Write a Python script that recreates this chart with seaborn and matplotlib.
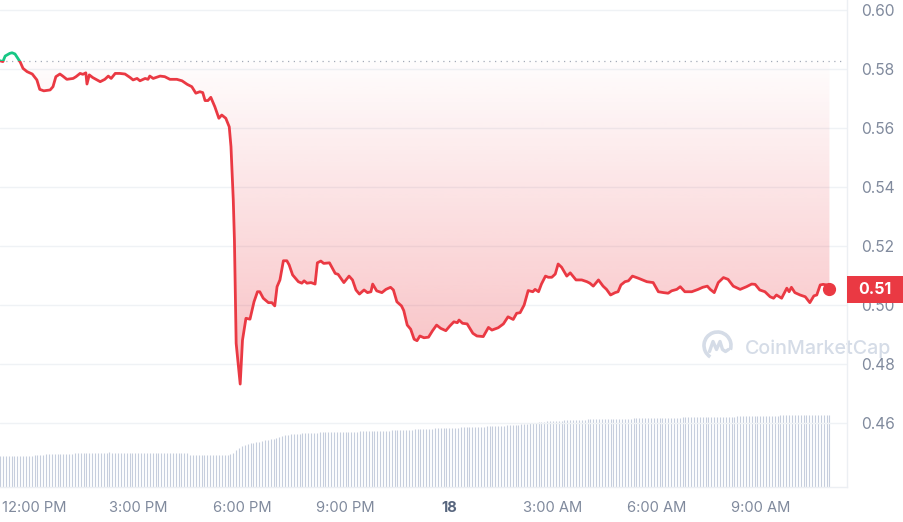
import numpy as np
import matplotlib
matplotlib.use("Agg")
import matplotlib.pyplot as plt
import seaborn as sns
from matplotlib.patches import Rectangle, Arc
from matplotlib.lines import Line2D
import matplotlib.transforms as mtransforms

# ---------------- data ----------------
# minutes since 11:00 AM (day 17)
minutes = [0, 5, 9, 17, 21, 26, 31, 35, 40, 47, 56, 64, 69, 76, 87, 92, 97, 104, 109, 116,
           127, 132, 139, 144, 149, 151, 155, 161, 174, 182, 188, 193, 200, 208, 217, 226, 231, 238, 243, 252,
           257, 260, 266, 278, 286, 295, 307, 316, 325, 333, 340, 347, 352, 356, 361, 366, 373, 380, 385, 392,
           398, 401, 405, 407, 410, 417, 421, 427, 434, 441, 447, 451, 457, 466, 472, 477, 481, 486, 492, 498,
           502, 508, 518, 524, 528, 533, 540, 547, 551, 557, 562, 572, 582, 587, 597, 606, 612, 618, 624, 632,
           638, 644, 647, 654, 663, 670, 678, 683, 689, 697, 701, 707, 713, 719, 724, 729, 736, 744, 751, 758,
           765, 774, 781, 788, 794, 797, 803, 811, 821, 828, 839, 848, 854, 865, 874, 882, 891, 897, 903, 910,
           917, 925, 929, 935, 940, 947, 952, 958, 964, 969, 975, 984, 990, 1000, 1010, 1019, 1024, 1030, 1039, 1047,
           1053, 1060, 1068, 1073, 1078, 1085, 1091, 1098, 1108, 1123, 1134, 1143, 1152, 1160, 1166, 1175, 1181, 1189, 1201, 1212,
           1220, 1228, 1233, 1240, 1247, 1256, 1264, 1273, 1285, 1296, 1305, 1311, 1319, 1328, 1337, 1343, 1348, 1357, 1366, 1370,
           1374, 1380, 1389, 1398, 1406, 1413, 1418, 1424, 1429, 1435, 1440]
price = [0.5828, 0.5825, 0.5844, 0.5853, 0.5855, 0.5851, 0.5836, 0.5824, 0.5802, 0.5791, 0.5783, 0.5763, 0.5731, 0.5726, 0.5729, 0.5740, 0.5774, 0.5783, 0.5776, 0.5765,
         0.5768, 0.5774, 0.5785, 0.5782, 0.5787, 0.5749, 0.5780, 0.5771, 0.5757, 0.5765, 0.5776, 0.5768, 0.5785, 0.5785, 0.5783, 0.5771, 0.5763, 0.5768, 0.5760, 0.5768,
         0.5765, 0.5776, 0.5768, 0.5776, 0.5774, 0.5765, 0.5765, 0.5760, 0.5748, 0.5740, 0.5718, 0.5723, 0.5720, 0.5693, 0.5693, 0.5704, 0.5672, 0.5633, 0.5644, 0.5633,
         0.5604, 0.5537, 0.5356, 0.5220, 0.4870, 0.4732, 0.4881, 0.4955, 0.4952, 0.5011, 0.5045, 0.5045, 0.5023, 0.5008, 0.5008, 0.4997, 0.5062, 0.5085, 0.5150, 0.5150,
         0.5136, 0.5102, 0.5079, 0.5074, 0.5082, 0.5074, 0.5076, 0.5071, 0.5143, 0.5149, 0.5141, 0.5143, 0.5107, 0.5104, 0.5076, 0.5098, 0.5085, 0.5051, 0.5037, 0.5051,
         0.5042, 0.5045, 0.5071, 0.5048, 0.5042, 0.5053, 0.5060, 0.5051, 0.5011, 0.4997, 0.4981, 0.4932, 0.4918, 0.4884, 0.4879, 0.4895, 0.4889, 0.4891, 0.4913, 0.4932,
         0.4921, 0.4913, 0.4929, 0.4943, 0.4940, 0.4949, 0.4938, 0.4936, 0.4904, 0.4895, 0.4893, 0.4924, 0.4915, 0.4923, 0.4936, 0.4960, 0.4951, 0.4972, 0.4974, 0.5000,
         0.5049, 0.5045, 0.5053, 0.5045, 0.5071, 0.5098, 0.5094, 0.5094, 0.5105, 0.5139, 0.5128, 0.5098, 0.5109, 0.5085, 0.5085, 0.5079, 0.5074, 0.5064, 0.5085, 0.5064,
         0.5053, 0.5034, 0.5042, 0.5045, 0.5068, 0.5079, 0.5082, 0.5098, 0.5091, 0.5079, 0.5076, 0.5045, 0.5042, 0.5040, 0.5048, 0.5053, 0.5062, 0.5045, 0.5045, 0.5053,
         0.5060, 0.5064, 0.5053, 0.5042, 0.5076, 0.5093, 0.5087, 0.5064, 0.5053, 0.5062, 0.5071, 0.5070, 0.5051, 0.5045, 0.5028, 0.5023, 0.5034, 0.5023, 0.5057, 0.5045,
         0.5060, 0.5042, 0.5034, 0.5028, 0.5008, 0.5031, 0.5034, 0.5068, 0.5070, 0.5068, 0.5053]

# volume bars every 5 minutes (arbitrary units)
volume = [31, 31, 31, 31, 31, 31, 31, 31, 31, 31, 31, 31,
          32, 32, 32, 32, 33, 33, 33, 33, 33, 33, 33, 33,
          33, 33, 34, 34, 34, 34, 34, 34, 34, 34, 34, 34,
          34, 34, 35, 34, 34, 34, 34, 34, 34, 34, 34, 34,
          34, 34, 34, 34, 34, 34, 34, 34, 34, 34, 34, 34,
          34, 34, 34, 34, 34, 34, 32, 32, 32, 32, 32, 32,
          32, 32, 32, 32, 32, 32, 32, 32, 33, 34, 37, 39,
          41, 42, 43, 44, 44, 45, 45, 46, 47, 47, 48, 48,
          49, 50, 51, 52, 52, 53, 53, 53, 53, 54, 54, 54,
          54, 54, 54, 55, 55, 55, 55, 55, 55, 55, 55, 55,
          55, 55, 55, 55, 55, 56, 56, 56, 56, 56, 56, 56,
          56, 56, 56, 56, 57, 57, 57, 57, 57, 57, 57, 57,
          58, 58, 58, 58, 58, 58, 58, 59, 59, 59, 59, 59,
          59, 59, 59, 59, 60, 60, 60, 60, 60, 60, 60, 60,
          60, 61, 61, 61, 61, 61, 61, 61, 62, 62, 62, 62,
          62, 63, 63, 63, 64, 64, 64, 65, 65, 65, 66, 66,
          66, 66, 66, 66, 67, 67, 67, 67, 67, 67, 67, 67,
          68, 68, 68, 68, 68, 68, 68, 68, 68, 68, 68, 68,
          68, 68, 68, 68, 69, 69, 69, 69, 69, 69, 69, 69,
          69, 69, 69, 69, 69, 69, 69, 69, 69, 70, 70, 70,
          70, 70, 70, 70, 70, 70, 70, 70, 70, 70, 70, 70,
          70, 70, 70, 70, 71, 71, 71, 71, 71, 71, 71, 71,
          71, 71, 71, 71, 71, 71, 71, 72, 72, 72, 72, 72,
          72, 72, 72, 72, 72, 72, 72, 72, 72, 72, 72, 72,
          72]
vol_minutes = list(range(0, 5 * len(volume), 5))

open_price = 0.5828
last_label = "0.51"
price_ticks = [0.46, 0.48, 0.50, 0.52, 0.54, 0.56, 0.58, 0.60]
price_tick_labels = ["0.46", "0.48", "0.50", "0.52", "0.54", "0.56", "0.58", "0.60"]
time_ticks = [60, 240, 420, 600, 780, 960, 1140, 1320]
time_labels = ["12:00 PM", "3:00 PM", "6:00 PM", "9:00 PM", "18", "3:00 AM", "6:00 AM", "9:00 AM"]
watermark = "CoinMarketCap"

RED = "#ea3943"
GREEN = "#16c784"
GRID = "#eff2f5"
TXT = "#808a9d"

# ---------------- style ----------------
sns.set_style("white")
plt.rcParams['font.family'] = ['Inter', 'DejaVu Sans']

W, H = 904, 522
fig = plt.figure(figsize=(W / 100, H / 100), dpi=100)
rect = [0, 35 / H, 847 / W, 487 / H]
ax_v = fig.add_axes(rect, zorder=1)
ax = fig.add_axes(rect, zorder=2)
ax.patch.set_alpha(0)

xmax = 1470.5
ylo, yhi = 0.43831, 0.60339

# volume
ax_v.vlines(vol_minutes, 0, volume, color="#c6cedd", lw=0.8)
ax_v.set_xlim(0, xmax)
ax_v.set_ylim(0, 487)
ax_v.axis("off")

ax.set_xlim(0, xmax)
ax.set_ylim(ylo, yhi)

# grid
for t in price_ticks:
    ax.axhline(t, color=GRID, lw=1, zorder=0)

# gradient fill between baseline and price
pr = np.array(price)
lower = np.minimum(pr, open_price)
poly = ax.fill_between(minutes, lower, open_price, facecolor="none", edgecolor="none")
n = 256
grad = np.zeros((n, 1, 4))
rgb = matplotlib.colors.to_rgb(RED)
grad[:, 0, 0], grad[:, 0, 1], grad[:, 0, 2] = rgb
grad[:, 0, 3] = np.linspace(0.01, 0.33, n)
im = ax.imshow(grad, extent=[0, minutes[-1], 0.4725, open_price], origin="upper",
               aspect="auto", zorder=1, interpolation="bilinear")
im.set_clip_path(poly.get_paths()[0], ax.transData)
ax.set_xlim(0, xmax)
ax.set_ylim(ylo, yhi)

# baseline dotted
ax.plot([0, 845 * xmax / 847], [open_price, open_price], color="#a4abb8", lw=0.9,
        linestyle=(0, (1.0, 3.6)), zorder=2)

# price lines (red below, green above baseline)
sns.lineplot(x=minutes, y=price, ax=ax, color=RED, lw=2.0, estimator=None, zorder=3)
sns.lineplot(x=minutes, y=price, ax=ax, color=GREEN, lw=2.0, estimator=None, zorder=4)
red_line, green_line = ax.lines[-2], ax.lines[-1]
r_clip = Rectangle((0, ylo), xmax, open_price - ylo, transform=ax.transData)
g_clip = Rectangle((0, open_price), xmax, yhi - open_price, transform=ax.transData)
red_line.set_clip_path(r_clip)
green_line.set_clip_path(g_clip)
red_line.set_solid_capstyle("round")
green_line.set_solid_capstyle("round")

ax.plot([minutes[-1]], [price[-1]], "o", color=RED, ms=8.5, zorder=5, clip_on=False)

# axes styling
for s in ["top", "left"]:
    ax.spines[s].set_visible(False)
for s in ["right", "bottom"]:
    ax.spines[s].set_color("#eceff3")
    ax.spines[s].set_linewidth(1)
ax.yaxis.tick_right()
ax.set_yticks(price_ticks)
ax.set_yticklabels(price_tick_labels)
ax.tick_params(axis="y", length=0, pad=10, labelsize=11.2, labelcolor=TXT)
ax.set_xticks(time_ticks)
ax.set_xticklabels(time_labels)
ax.tick_params(axis="x", length=4, width=1, color="#e6e9ee", pad=6, labelsize=10.6, labelcolor=TXT)
for lab in ax.get_xticklabels():
    if lab.get_text() == "18":
        lab.set_fontweight("bold")
        lab.set_color("#58667e")
ax.set_xlabel("")
ax.set_ylabel("")
ax.legend_ = None

# current price tag
fig.patches.append(Rectangle((847 / W, 1 - 303 / H), 57 / W, 27 / H, transform=fig.transFigure,
                             facecolor=RED, edgecolor="none", zorder=10))
fig.text(875 / W, 1 - 289.5 / H, last_label, color="white", fontsize=11.5, fontweight="bold",
         ha="center", va="center", zorder=11)

# watermark
WM = "#d5dce7"
wm = fig.text(745 / W, 1 - 349 / H, watermark, color=WM, fontsize=15, fontweight="medium",
              ha="left", va="center", zorder=1)
renderer = fig.canvas.get_renderer()
wpx = wm.get_window_extent(renderer).width
wm.set_fontsize(15 * 147 / wpx)
cx, cy, r = 717.5, 345.5, 13.5
arc = Arc((cx / W, 1 - cy / H), 2 * r / W, 2 * r / H, theta1=-30, theta2=250,
          transform=fig.transFigure, color=WM, lw=2.6)
fig.patches.append(arc)
wx = [cx - 8, cx - 4.5, cx - 1, cx + 2.5, cx + 5, cx + 8, cx + 11]
wy = [cy + 6, cy - 4, cy + 4, cy - 4, cy + 4, cy + 6, cy + 4]
fig.lines.append(Line2D([x / W for x in wx], [1 - y / H for y in wy], transform=fig.transFigure,
                        color=WM, lw=2.4, solid_joinstyle="round", solid_capstyle="round"))

fig.savefig("out.png", dpi=100)
